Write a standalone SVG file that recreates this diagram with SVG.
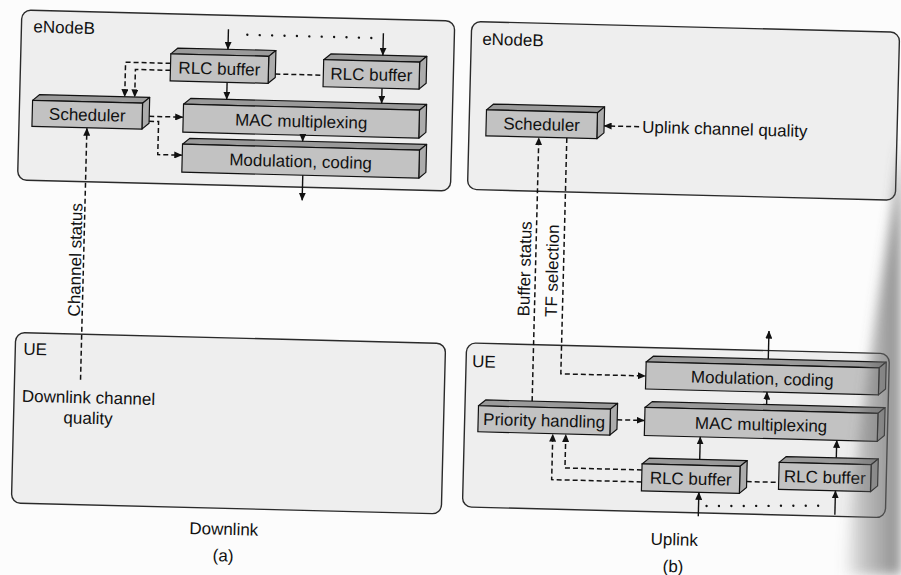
<svg xmlns="http://www.w3.org/2000/svg" width="901" height="575" viewBox="0 0 901 575">
  <defs>
    <style>
      text { font-family: "Liberation Sans", Arial, Helvetica, sans-serif; font-size: 17px; fill: #111; }
      .mid { text-anchor: middle; }
      .panel { fill: #eeeeee; stroke: #2a2a2a; stroke-width: 1.4; }
      .front { fill: #c2c2c2; stroke: #111; stroke-width: 1.2; }
      .top { fill: #9a9a9a; stroke: #111; stroke-width: 1.2; stroke-linejoin: round; }
      .side { fill: #acacac; stroke: #111; stroke-width: 1.2; stroke-linejoin: round; }
      .line { fill: none; stroke: #111; stroke-width: 1.4; }
      .dash { stroke-dasharray: 5 3; stroke-width: 1.5; }
      .dot { stroke-dasharray: 0 12.4; stroke-linecap: round; stroke-width: 2.4; }
    </style>
    <marker id="ah" viewBox="0 0 8 7" refX="7.5" refY="3.5" markerWidth="8" markerHeight="7" markerUnits="userSpaceOnUse" orient="auto">
      <path d="M0,0 L8,3.5 L0,7 Z" fill="#111"/>
    </marker>
    <linearGradient id="edge" x1="0" y1="0" x2="1" y2="0">
      <stop offset="0" stop-color="#666" stop-opacity="0"/>
      <stop offset="0.35" stop-color="#666" stop-opacity="0.35"/>
      <stop offset="1" stop-color="#666" stop-opacity="0.75"/>
    </linearGradient>
    <filter id="soft" x="-20%" y="-20%" width="140%" height="140%">
      <feGaussianBlur stdDeviation="6"/>
    </filter>
  </defs>

  <rect x="0" y="0" width="901" height="575" fill="#fcfcfc"/>

  <g transform="rotate(1.45 450 287)">
    <!-- (a) downlink -->
    <g id="a-enodeb">
      <rect class="panel" x="15" y="21" width="433" height="170" rx="9"/>
      <text x="27" y="43">eNodeB</text>
    </g>
    <g id="a-ue">
      <rect class="panel" x="17" y="343.5" width="430" height="170.5" rx="9"/>
      <text x="25" y="365.5">UE</text>
      <text class="mid" x="91.5" y="412.5">Downlink channel</text>
      <text class="mid" x="91.5" y="433">quality</text>
    </g>

    <g id="a-rlc1">
      <path class="top" d="M165,61 L172,55 L270,55 L263,61 Z"/>
      <path class="side" d="M263,61 L270,55 L270,82 L263,88 Z"/>
      <rect class="front" x="165" y="61" width="98" height="27"/>
      <text class="mid" x="214" y="80.5">RLC buffer</text>
    </g>
    <g id="a-rlc2">
      <path class="top" d="M318,63 L325,57 L421,57 L414,63 Z"/>
      <path class="side" d="M414,63 L421,57 L421,84 L414,90 Z"/>
      <rect class="front" x="318" y="63" width="96" height="27"/>
      <text class="mid" x="366" y="82.5">RLC buffer</text>
    </g>
    <g id="a-scheduler">
      <path class="top" d="M28,111 L35,105 L145,105 L138,111 Z"/>
      <path class="side" d="M138,111 L145,105 L145,131 L138,137 Z"/>
      <rect class="front" x="28" y="111" width="110" height="26"/>
      <text class="mid" x="83" y="130">Scheduler</text>
    </g>
    <g id="a-mac">
      <path class="top" d="M179,111 L186,105 L422,105 L415,111 Z"/>
      <path class="side" d="M415,111 L422,105 L422,133 L415,139 Z"/>
      <rect class="front" x="179" y="111" width="236" height="28"/>
      <text class="mid" x="297" y="131">MAC multiplexing</text>
    </g>
    <g id="a-modulation">
      <path class="top" d="M179,151 L186,145 L423,145 L416,151 Z"/>
      <path class="side" d="M416,151 L423,145 L423,173 L416,179 Z"/>
      <rect class="front" x="179" y="151" width="237" height="28"/>
      <text class="mid" x="297.5" y="171">Modulation, coding</text>
    </g>

    <!-- (b) uplink -->
    <g id="b-enodeb">
      <rect class="panel" x="465" y="21" width="428" height="168" rx="9"/>
      <text x="476" y="44">eNodeB</text>
      <text x="638" y="128">Uplink channel quality</text>
    </g>
    <g id="b-ue">
      <rect class="panel" x="468" y="342.5" width="423" height="164" rx="9"/>
      <text x="474" y="366.5">UE</text>
    </g>

    <g id="b-scheduler">
      <path class="top" d="M482,109 L489,103 L600,103 L593,109 Z"/>
      <path class="side" d="M593,109 L600,103 L600,129 L593,135 Z"/>
      <rect class="front" x="482" y="109" width="111" height="26"/>
      <text class="mid" x="537.5" y="128">Scheduler</text>
    </g>
    <g id="b-modulation">
      <path class="top" d="M648,357 L655,351 L888,351 L881,357 Z"/>
      <path class="side" d="M881,357 L888,351 L888,378 L881,384 Z"/>
      <rect class="front" x="648" y="357" width="233" height="27"/>
      <text class="mid" x="764.5" y="376.5">Modulation, coding</text>
    </g>
    <g id="b-mac">
      <path class="top" d="M648,402.5 L655,396.5 L888,396.5 L881,402.5 Z"/>
      <path class="side" d="M881,402.5 L888,396.5 L888,424.5 L881,430.5 Z"/>
      <rect class="front" x="648" y="402.5" width="233" height="28"/>
      <text class="mid" x="764.5" y="422.5">MAC multiplexing</text>
    </g>
    <g id="b-priority">
      <path class="top" d="M481.5,405 L488.5,399 L620.5,399 L613.5,405 Z"/>
      <path class="side" d="M613.5,405 L620.5,399 L620.5,425 L613.5,431 Z"/>
      <rect class="front" x="481.5" y="405" width="132" height="26"/>
      <text class="mid" x="547.5" y="424">Priority handling</text>
    </g>
    <g id="b-rlc1">
      <path class="top" d="M646.5,459 L653.5,453 L751.5,453 L744.5,459 Z"/>
      <path class="side" d="M744.5,459 L751.5,453 L751.5,480 L744.5,486 Z"/>
      <rect class="front" x="646.5" y="459" width="98" height="27"/>
      <text class="mid" x="695.5" y="478.5">RLC buffer</text>
    </g>
    <g id="b-rlc2">
      <path class="top" d="M783.5,454 L790.5,448 L882.5,448 L875.5,454 Z"/>
      <path class="side" d="M875.5,454 L882.5,448 L882.5,475 L875.5,481 Z"/>
      <rect class="front" x="783.5" y="454" width="92" height="27"/>
      <text class="mid" x="829.5" y="473.5">RLC buffer</text>
    </g>

    <!-- link labels -->
    <g id="labels">
      <text transform="translate(80.5,326) rotate(-90)">Channel status</text>
      <text transform="translate(530,314.5) rotate(-90)">Buffer status</text>
      <text transform="translate(557.5,314.5) rotate(-90)">TF selection</text>
      <text class="mid" x="230" y="540.5">Downlink</text>
      <text class="mid" x="230" y="567">(a)</text>
      <text class="mid" x="680.5" y="539.5">Uplink</text>
      <text class="mid" x="680" y="566.5">(b)</text>
    </g>

    <g id="connectors">
      <!-- downlink data path -->
      <path class="line" d="M222,35 V55" marker-end="url(#ah)"/>
      <path class="line" d="M377,35 V57" marker-end="url(#ah)"/>
      <path class="line dot" d="M241,40 H365"/>
      <path class="line" d="M222,88 V105" marker-end="url(#ah)"/>
      <path class="line" d="M377,90 V105" marker-end="url(#ah)"/>
      <path class="line" d="M299,139 V145" marker-end="url(#ah)"/>
      <path class="line" d="M300,179 V204" marker-end="url(#ah)"/>
      <!-- downlink control -->
      <path class="line dash" d="M165,70.5 H120 V105" marker-end="url(#ah)"/>
      <path class="line dash" d="M165,77.5 H130 V105" marker-end="url(#ah)"/>
      <path class="line dash" d="M270,78.5 H318"/>
      <path class="line dash" d="M145,124 H178.5" marker-end="url(#ah)"/>
      <path class="line dash" d="M145,129 H154.5 V162 H178.5" marker-end="url(#ah)"/>
      <path class="line dash" d="M83,389 V137.5" marker-end="url(#ah)"/>

      <!-- uplink control -->
      <path class="line dash" d="M635,122 H600" marker-end="url(#ah)"/>
      <path class="line dash" d="M535,399 V135.5" marker-end="url(#ah)"/>
      <path class="line dash" d="M563,135 V371 H647.5" marker-end="url(#ah)"/>
      <path class="line dash" d="M620.5,415.5 H647.5" marker-end="url(#ah)"/>
      <path class="line dash" d="M646.5,465 H569.5 V431.5" marker-end="url(#ah)"/>
      <path class="line dash" d="M646.5,477 H556.5 V431.5" marker-end="url(#ah)"/>
      <path class="line dash" d="M751.5,474 H783.5"/>
      <!-- uplink data path -->
      <path class="line" d="M770,351 V323" marker-end="url(#ah)"/>
      <path class="line" d="M769.5,396.5 V384" marker-end="url(#ah)"/>
      <path class="line" d="M704,453 V430.5" marker-end="url(#ah)"/>
      <path class="line" d="M840.5,448 V430.5" marker-end="url(#ah)"/>
      <path class="line" d="M704,510 V486" marker-end="url(#ah)"/>
      <path class="line" d="M840.5,505 V481" marker-end="url(#ah)"/>
      <path class="line dot" d="M712,499.5 L834,496"/>
    </g>
  </g>

  <!-- darkened page edge on the right -->
  <path d="M901,140 L894,200 L878,300 L864,400 L850,500 L842,575 L901,575 Z" fill="url(#edge)" filter="url(#soft)"/>
</svg>
